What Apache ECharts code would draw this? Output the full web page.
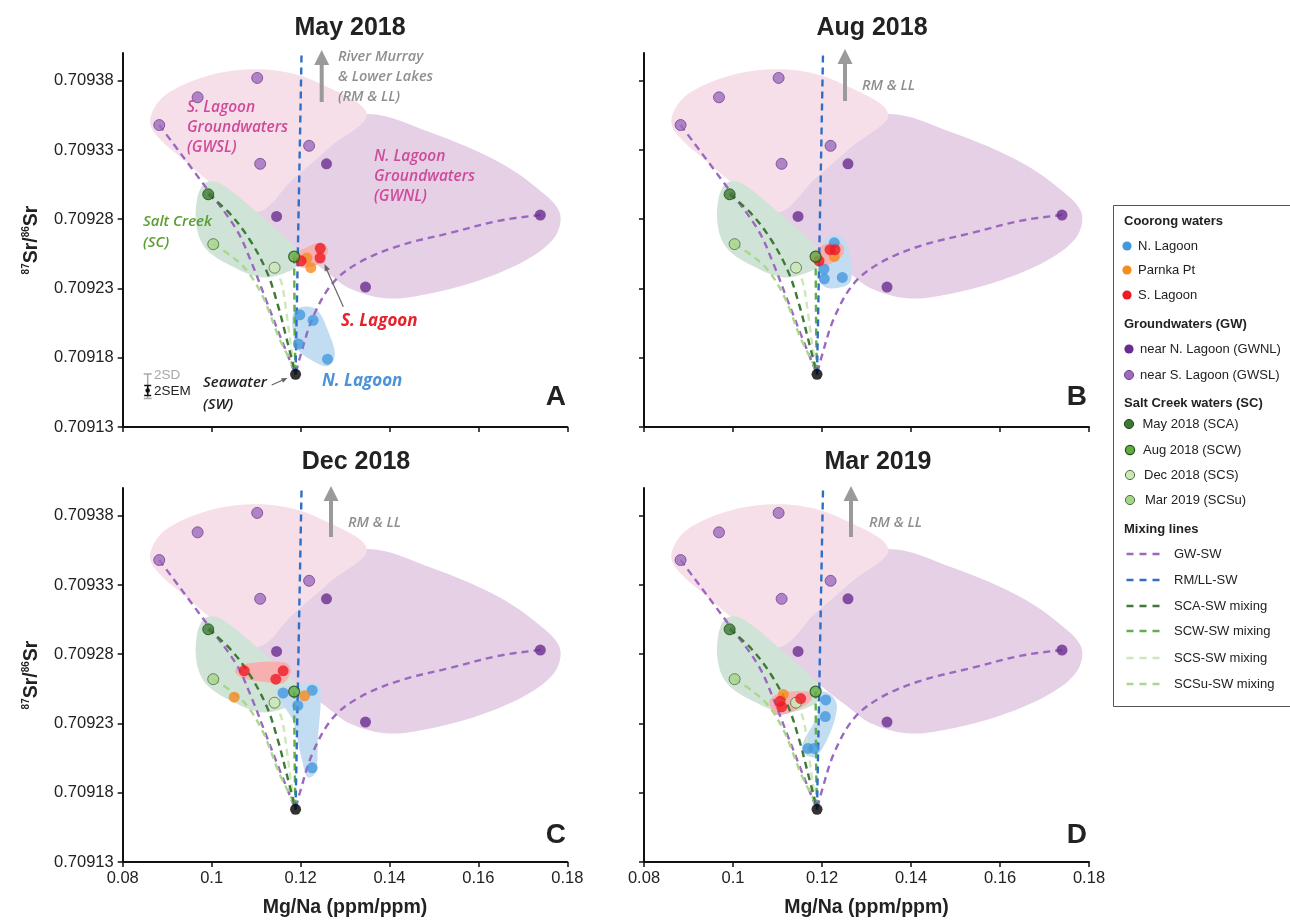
<!DOCTYPE html>
<html><head><meta charset="utf-8">
<script src="https://cdn.jsdelivr.net/npm/echarts@6/dist/echarts.min.js"></script>
<style>html,body{margin:0;padding:0;background:#fff}#c{width:1290px;height:920px}</style>
</head><body><div id="c"></div>
<script>
// ---------------- DATA ----------------
const panelTitles = ['May 2018', 'Aug 2018', 'Dec 2018', 'Mar 2019'];
const panelLetters = ['A', 'B', 'C', 'D'];
const xTicks = [0.08, 0.1, 0.12, 0.14, 0.16, 0.18];
const yTicks = [0.70913, 0.70918, 0.70923, 0.70928, 0.70933, 0.70938];
const xRange = [0.08, 0.18];
const yRange = [0.70913, 0.7094];

// Groundwaters, Salt Creek, Seawater (same in every panel)
const gwNearNLagoon = [[0.12584, 0.70932], [0.11461, 0.709282], [0.17393, 0.709283], [0.13461, 0.709231]];
const gwNearSLagoon = [[0.08822, 0.709348], [0.09685, 0.709368], [0.11025, 0.709382], [0.11092, 0.70932], [0.12193, 0.709333]];
const scMay2018 = [[0.09924, 0.709298]];
const scAug2018 = [[0.11856, 0.709253]];
const scDec2018 = [[0.11416, 0.709245]];
const scMar2019 = [[0.10036, 0.709262]];
const seawater = [[0.11888, 0.709168]];

// Coorong waters per panel (A, B, C, D)
const nLagoon = [
  [[0.11984, 0.709211], [0.12283, 0.709207], [0.11955, 0.70919], [0.12607, 0.709179]],
  [[0.12276, 0.709263], [0.12045, 0.709244], [0.12052, 0.709237], [0.12456, 0.709238]],
  [[0.11609, 0.709252], [0.12261, 0.709254], [0.11939, 0.709243], [0.12261, 0.709198]],
  [[0.12083, 0.709247], [0.12074, 0.709235], [0.11685, 0.709212], [0.1182, 0.709212]]
];
const parnkaPt = [
  [[0.12142, 0.709252], [0.12232, 0.709245]],
  [[0.12276, 0.709253]],
  [[0.10508, 0.709249], [0.1209, 0.70925]],
  [[0.1113, 0.709251]]
];
const sLagoon = [
  [[0.12444, 0.709259], [0.1244, 0.709252], [0.12013, 0.70925]],
  [[0.1218, 0.709258], [0.12292, 0.709258], [0.11933, 0.70925]],
  [[0.10733, 0.709268], [0.11609, 0.709268], [0.11445, 0.709262]],
  [[0.11056, 0.709246], [0.11094, 0.709242], [0.11521, 0.709248]]
];

// Mixing lines
const mixGWSL = [[0.08822, 0.709348], [0.09894, 0.709302], [0.10569, 0.709272], [0.10906, 0.709248], [0.1122, 0.709222], [0.11535, 0.709196], [0.1176, 0.709178], [0.11888, 0.709168]];
const mixGWNL = [[0.17393, 0.709283], [0.16479, 0.709279], [0.15355, 0.70927], [0.14232, 0.709261], [0.13333, 0.709249], [0.12726, 0.709234], [0.12276, 0.709209], [0.11984, 0.70918], [0.11888, 0.709168]];
const mixSCA = [[0.09924, 0.709298], [0.10411, 0.709284], [0.10861, 0.709265], [0.11243, 0.709242], [0.1149, 0.709218], [0.11692, 0.709193], [0.11888, 0.709168]];
const mixSCW = [[0.11856, 0.709253], [0.11863, 0.709222], [0.11872, 0.709193], [0.11888, 0.709168]];
const mixSCS = [[0.11416, 0.709245], [0.11573, 0.709234], [0.11685, 0.709212], [0.11782, 0.709189], [0.11888, 0.709168]];
const mixSCSu = [[0.10036, 0.709262], [0.10456, 0.709253], [0.10793, 0.709243], [0.11153, 0.709224], [0.11535, 0.709193], [0.11798, 0.709176], [0.11888, 0.709168]];
const mixRMLL = [[0.11888, 0.709168], [0.12023, 0.7094]];

// Envelopes
const envGWSL = [[0.08613, 0.709351], [0.08838, 0.709366], [0.09288, 0.709376], [0.09962, 0.709384], [0.10748, 0.709388], [0.11535, 0.709387], [0.12366, 0.709379], [0.1349, 0.709356], [0.12656, 0.709332], [0.11837, 0.709309], [0.11018, 0.709285], [0.10074, 0.709304], [0.094, 0.709322], [0.08771, 0.70934]];
const envGWNL = [[0.1349, 0.709356], [0.14973, 0.709342], [0.16479, 0.709321], [0.17378, 0.709301], [0.17827, 0.709285], [0.17737, 0.709268], [0.17153, 0.709252], [0.16029, 0.709236], [0.14681, 0.709225], [0.13894, 0.709223], [0.13108, 0.70923], [0.12546, 0.709243], [0.12097, 0.709254], [0.11018, 0.709285], [0.11198, 0.709306], [0.12321, 0.709341]];
const envSC = [[0.09849, 0.709306], [0.10187, 0.709306], [0.11018, 0.709285], [0.11984, 0.709256], [0.11984, 0.709249], [0.11715, 0.709242], [0.1113, 0.709238], [0.10456, 0.709246], [0.09894, 0.709258], [0.0967, 0.709273], [0.0967, 0.709294]];
const envSLagoon = [
  [[0.11827, 0.709254], [0.12097, 0.709259], [0.12434, 0.709263], [0.12614, 0.709259], [0.12546, 0.709252], [0.12276, 0.709246], [0.11939, 0.709246]],
  [[0.11753, 0.709253], [0.1191, 0.709259], [0.1218, 0.709263], [0.1245, 0.709262], [0.12494, 0.709256], [0.12315, 0.70925], [0.11955, 0.709246]],
  [[0.10524, 0.709268], [0.10748, 0.709273], [0.11647, 0.709274], [0.11782, 0.709268], [0.11602, 0.709259], [0.11198, 0.70926], [0.10681, 0.709263]],
  [[0.10832, 0.709247], [0.11056, 0.709252], [0.11663, 0.709253], [0.11775, 0.709248], [0.11506, 0.709241], [0.11011, 0.709236], [0.10854, 0.709241]]
];
const envNLagoon = [
  [[0.1185, 0.709213], [0.12097, 0.709217], [0.12389, 0.709214], [0.12658, 0.709196], [0.12771, 0.709182], [0.12614, 0.709174], [0.12321, 0.709177], [0.11939, 0.709186], [0.11827, 0.7092]],
  [[0.11955, 0.709258], [0.1218, 0.709268], [0.1245, 0.709267], [0.12629, 0.709254], [0.12652, 0.709236], [0.1245, 0.709231], [0.12067, 0.709231], [0.1191, 0.70924]],
  [[0.11467, 0.709255], [0.11984, 0.709258], [0.12366, 0.709259], [0.12456, 0.709252], [0.12389, 0.709218], [0.12344, 0.709195], [0.12164, 0.709191], [0.12029, 0.709204], [0.11827, 0.709232], [0.11535, 0.709247]],
  [[0.11955, 0.709247], [0.12, 0.709253], [0.12225, 0.70925], [0.12337, 0.709242], [0.1218, 0.709223], [0.11843, 0.709206], [0.11573, 0.709209], [0.11573, 0.709216], [0.11888, 0.709235]]
];

// ---------------- STYLE ----------------
const COL = {
  nl: '#4398dc', pp: '#f68b1f', sl: '#ed1c24', gwnl: '#6a2c91', gwsl: '#9d6bbd',
  sca: '#3c7a32', scw: '#62ad41', scs: '#cbe7b6', scsu: '#a6d58a',
  lgw: '#9b68c0', lrm: '#2f6fc6', lsca: '#3e7a35', lscw: '#64ae44', lscs: '#cde8b8', lscsu: '#a9d78e',
  ePink: '#f7dfea', ePurple: '#e5d0e5', eGreen: '#d0e3d7', eRed: '#f6b0b0', eBlue: '#c2dcf2'
};
const ST = {
  nl: {color: COL.nl}, pp: {color: COL.pp}, sl: {color: COL.sl},
  gwnl: {color: COL.gwnl}, gwsl: {color: COL.gwsl, borderColor: '#6e4690', borderWidth: 1},
  sca: {color: COL.sca, borderColor: '#1f4719', borderWidth: 1},
  scw: {color: COL.scw, borderColor: '#234a1d', borderWidth: 1.2},
  scs: {color: COL.scs, borderColor: '#4e6e45', borderWidth: 1},
  scsu: {color: COL.scsu, borderColor: '#4e6e45', borderWidth: 1},
  sw: {color: '#000'}
};
const FONT = "'Liberation Sans', Arial, sans-serif";
const IFONT = "'Open Sans', sans-serif";

const grids = [
  {left: 122.7, top: 53, width: 444.6, height: 374},
  {left: 644, top: 53, width: 445, height: 374},
  {left: 122.7, top: 488, width: 444.6, height: 374},
  {left: 644, top: 488, width: 445, height: 374}
];

function regionSeries(p, regions) {
  return {
    type: 'custom', xAxisIndex: p, yAxisIndex: p, silent: true, z: 1, clip: false,
    data: regions.map((r, i) => [r.pts[0][0], r.pts[0][1], i]),
    renderItem: function (params, api) {
      const r = regions[params.dataIndex];
      const pts = r.pts.map(q => api.coord(q));
      return {type: 'polygon', shape: {points: pts, smooth: 0.35}, style: {fill: r.color}};
    }
  };
}
function lineS(p, data, color, smooth) {
  return {type: 'line', xAxisIndex: p, yAxisIndex: p, data: data, symbol: 'none', smooth: smooth === undefined ? 0.35 : smooth,
    silent: true, z: 2, lineStyle: {color: color, width: 2.4, type: [7, 5]}};
}
function dots(p, data, st, size) {
  return {type: 'scatter', xAxisIndex: p, yAxisIndex: p, data: data, symbolSize: size || 11, itemStyle: st, z: 3, silent: true};
}

const series = [];
for (let p = 0; p < 4; p++) {
  series.push(regionSeries(p, [
    {pts: envGWNL, color: COL.ePurple},
    {pts: envGWSL, color: COL.ePink},
    {pts: envSC, color: COL.eGreen},
    {pts: envNLagoon[p], color: COL.eBlue},
    {pts: envSLagoon[p], color: COL.eRed}
  ]));
  series.push(lineS(p, mixGWSL, COL.lgw));
  series.push(lineS(p, mixGWNL, COL.lgw));
  series.push(lineS(p, mixSCSu, COL.lscsu));
  series.push(lineS(p, mixSCS, COL.lscs));
  series.push(lineS(p, mixSCA, COL.lsca));
  series.push(lineS(p, mixSCW, COL.lscw));
  series.push(lineS(p, mixRMLL, COL.lrm, false));
  series.push(dots(p, gwNearSLagoon, ST.gwsl));
  series.push(dots(p, gwNearNLagoon, ST.gwnl));
  series.push(dots(p, scMay2018, ST.sca));
  series.push(dots(p, scMar2019, ST.scsu));
  series.push(dots(p, scDec2018, ST.scs));
  series.push(dots(p, nLagoon[p], ST.nl));
  series.push(dots(p, parnkaPt[p], ST.pp));
  series.push(dots(p, sLagoon[p], ST.sl));
  series.push(dots(p, scAug2018, ST.scw));
  series.push(dots(p, seawater, ST.sw));
}

const xAxis = grids.map((g, i) => ({
  gridIndex: i, type: 'value', min: xRange[0], max: xRange[1],
  axisLine: {show: true, onZero: false, lineStyle: {color: '#111', width: 2}},
  axisTick: {show: true, length: 5, inside: false, customValues: xTicks, lineStyle: {color: '#111', width: 1.5}},
  axisLabel: {show: i >= 2, customValues: xTicks, fontSize: 16.5, color: '#222', fontFamily: FONT, margin: 8,
    formatter: v => String(parseFloat(v.toFixed(2)))},
  splitLine: {show: false},
  name: i >= 2 ? 'Mg/Na (ppm/ppm)' : '', nameLocation: 'middle', nameGap: 36,
  nameTextStyle: {fontSize: 19.5, fontWeight: 'bold', color: '#222', fontFamily: FONT}
}));
const yAxis = grids.map((g, i) => ({
  gridIndex: i, type: 'value', min: yRange[0], max: yRange[1],
  axisLine: {show: true, onZero: false, lineStyle: {color: '#111', width: 2}},
  axisTick: {show: true, length: 5, customValues: yTicks, lineStyle: {color: '#111', width: 1.5}},
  axisLabel: {show: i % 2 === 0, customValues: yTicks, fontSize: 16.5, color: '#222', fontFamily: FONT, margin: 9,
    formatter: v => v.toFixed(5)},
  splitLine: {show: false}
}));

// ---------------- GRAPHIC (annotations, legend) ----------------
const G = [];
function txt(x, y, text, o) {
  o = o || {};
  G.push({type: 'text', x: x, y: y, rotation: o.rotation || 0, z: 50, silent: true, style: {
    text: text, fill: o.color || '#222', fontSize: o.size || 13, fontFamily: o.font || FONT,
    fontWeight: o.weight || 'normal', fontStyle: o.style || 'normal',
    align: o.align || 'left', verticalAlign: o.valign || 'middle', rich: o.rich
  }});
}
function seg(x1, y1, x2, y2, color, w) {
  G.push({type: 'line', z: 50, silent: true, shape: {x1: x1, y1: y1, x2: x2, y2: y2}, style: {stroke: color, lineWidth: w}});
}
function arrowHead(x1, y1, x2, y2, color, len, half) {
  const a = Math.atan2(y2 - y1, x2 - x1);
  const bx = x2 - len * Math.cos(a), by = y2 - len * Math.sin(a);
  const px = -Math.sin(a) * half, py = Math.cos(a) * half;
  G.push({type: 'polygon', z: 50, silent: true, shape: {points: [[x2, y2], [bx + px, by + py], [bx - px, by - py]]}, style: {fill: color}});
}
function bigArrow(x, yTop, yBot) {
  seg(x, yBot, x, yTop + 12, '#9a9a9a', 4);
  arrowHead(x, yBot, x, yTop, '#9a9a9a', 15, 7.5);
}

// titles and letters
const titlePos = [[350, 28], [872, 28], [356, 462], [878, 462]];
const letterPos = [[566, 397], [1087, 397], [566, 835], [1087, 835]];
for (let p = 0; p < 4; p++) {
  txt(titlePos[p][0], titlePos[p][1], panelTitles[p], {size: 25, weight: 'bold', align: 'center', color: '#222'});
  txt(letterPos[p][0], letterPos[p][1], panelLetters[p], {size: 28, weight: 'bold', align: 'right', color: '#222'});
}
// y axis names
const yNameRich = {
  s: {fontSize: 10, fontWeight: 'bold', fontFamily: FONT, fill: '#222', verticalAlign: 'top', lineHeight: 22},
  b: {fontSize: 19.5, fontWeight: 'bold', fontFamily: FONT, fill: '#222', lineHeight: 22}
};
txt(32, 240, '{s|87}{b|Sr/}{s|86}{b|Sr}', {rotation: Math.PI / 2, align: 'center', rich: yNameRich});
txt(32, 675, '{s|87}{b|Sr/}{s|86}{b|Sr}', {rotation: Math.PI / 2, align: 'center', rich: yNameRich});

// panel annotations
const grayTxt = {color: '#8f8f8f', size: 14.5, font: IFONT, weight: 600, style: 'italic'};
txt(338, 57, 'River Murray', grayTxt);
txt(338, 77, '& Lower Lakes', grayTxt);
txt(338, 97, '(RM & LL)', grayTxt);
bigArrow(321.7, 50, 102);
bigArrow(845, 49, 101);
txt(862, 86, 'RM & LL', grayTxt);
bigArrow(331, 486, 537);
txt(348, 523, 'RM & LL', grayTxt);
bigArrow(851, 486, 537);
txt(869, 523, 'RM & LL', grayTxt);

const pinkTxt = {color: '#cf4a9a', size: 15.5, font: IFONT, weight: 600, style: 'italic'};
txt(187, 108, 'S. Lagoon', pinkTxt);
txt(187, 128, 'Groundwaters', pinkTxt);
txt(187, 148, '(GWSL)', pinkTxt);
txt(374, 157, 'N. Lagoon', pinkTxt);
txt(374, 177, 'Groundwaters', pinkTxt);
txt(374, 197, '(GWNL)', pinkTxt);
const greenTxt = {color: '#5a9e2f', size: 15, font: IFONT, weight: 600, style: 'italic'};
txt(143, 222, 'Salt Creek', greenTxt);
txt(143, 243, '(SC)', greenTxt);
txt(341, 321, 'S. Lagoon', {color: '#e8202a', size: 17, font: IFONT, weight: 'bold', style: 'italic'});
txt(322, 381, 'N. Lagoon', {color: '#4a92da', size: 17, font: IFONT, weight: 'bold', style: 'italic'});
const blackTxt = {color: '#222', size: 15, font: IFONT, weight: 600, style: 'italic'};
txt(203, 383, 'Seawater', blackTxt);
txt(203, 405, '(SW)', blackTxt);
seg(271.7, 385, 284, 379.5, '#666', 1.2);
arrowHead(271.7, 385, 287.5, 378, '#666', 6, 2.5);
seg(343.3, 306.7, 326, 268, '#666', 1.2);
arrowHead(343.3, 306.7, 324.5, 264, '#666', 7, 2.8);
// error bar
seg(147.7, 374, 147.7, 398.5, '#a8a8a8', 1.5);
seg(143.7, 374, 151.7, 374, '#a8a8a8', 1.5);
seg(143.7, 398.5, 151.7, 398.5, '#a8a8a8', 1.5);
seg(147.7, 385.5, 147.7, 395.5, '#111', 1.5);
seg(144.2, 385.5, 151.2, 385.5, '#111', 1.5);
seg(144.2, 395.5, 151.2, 395.5, '#111', 1.5);
G.push({type: 'circle', z: 51, silent: true, shape: {cx: 147.7, cy: 390.5, r: 2.3}, style: {fill: '#111'}});
txt(154, 375, '2SD', {color: '#a8a8a8', size: 13.5});
txt(154, 391, '2SEM', {color: '#222', size: 13.5});

// legend
G.push({type: 'rect', z: 40, silent: true, shape: {x: 1113.5, y: 205.5, width: 200, height: 501}, style: {fill: '#fff', stroke: '#555', lineWidth: 1}});
const legendHeads = [['Coorong waters', 221], ['Groundwaters (GW)', 324], ['Salt Creek waters (SC)', 403], ['Mixing lines', 529]];
legendHeads.forEach(h => txt(1124, h[1], h[0], {size: 13, weight: 'bold', color: '#222'}));
const legendDots = [
  ['N. Lagoon', ST.nl, 246, 1127, 1138],
  ['Parnka Pt', ST.pp, 270, 1127, 1138],
  ['S. Lagoon', ST.sl, 295, 1127, 1138],
  ['near N. Lagoon (GWNL)', ST.gwnl, 349, 1129, 1140],
  ['near S. Lagoon (GWSL)', ST.gwsl, 375, 1129, 1140],
  ['May 2018 (SCA)', ST.sca, 424, 1129, 1142.5],
  ['Aug 2018 (SCW)', ST.scw, 450, 1130, 1143],
  ['Dec 2018 (SCS)', ST.scs, 475, 1130, 1144],
  ['Mar 2019 (SCSu)', ST.scsu, 500, 1130, 1145]
];
legendDots.forEach(d => {
  G.push({type: 'circle', z: 41, silent: true, shape: {cx: d[3], cy: d[2], r: 4.6},
    style: {fill: d[1].color, stroke: d[1].borderColor || null, lineWidth: d[1].borderWidth || 0}});
  txt(d[4], d[2], d[0], {size: 13});
});
const legendLines = [['GW-SW', COL.lgw, 554], ['RM/LL-SW', COL.lrm, 580], ['SCA-SW mixing', COL.lsca, 606],
  ['SCW-SW mixing', COL.lscw, 631], ['SCS-SW mixing', COL.lscs, 658], ['SCSu-SW mixing', COL.lscsu, 684]];
legendLines.forEach(l => {
  G.push({type: 'line', z: 41, silent: true, shape: {x1: 1126.5, y1: l[2], x2: 1164, y2: l[2]},
    style: {stroke: l[1], lineWidth: 2.3, lineDash: [7, 6]}});
  txt(1174, l[2], l[0], {size: 13});
});

const option = {
  animation: false,
  backgroundColor: '#fff',
  grid: grids.map(g => Object.assign({outerBoundsMode: 'none', containLabel: false}, g)),
  xAxis: xAxis,
  yAxis: yAxis,
  series: series,
  graphic: {elements: G}
};
const chart = echarts.init(document.getElementById('c'), null, {renderer: 'canvas', width: 1290, height: 920});
chart.setOption(option);
</script>
</body></html>
